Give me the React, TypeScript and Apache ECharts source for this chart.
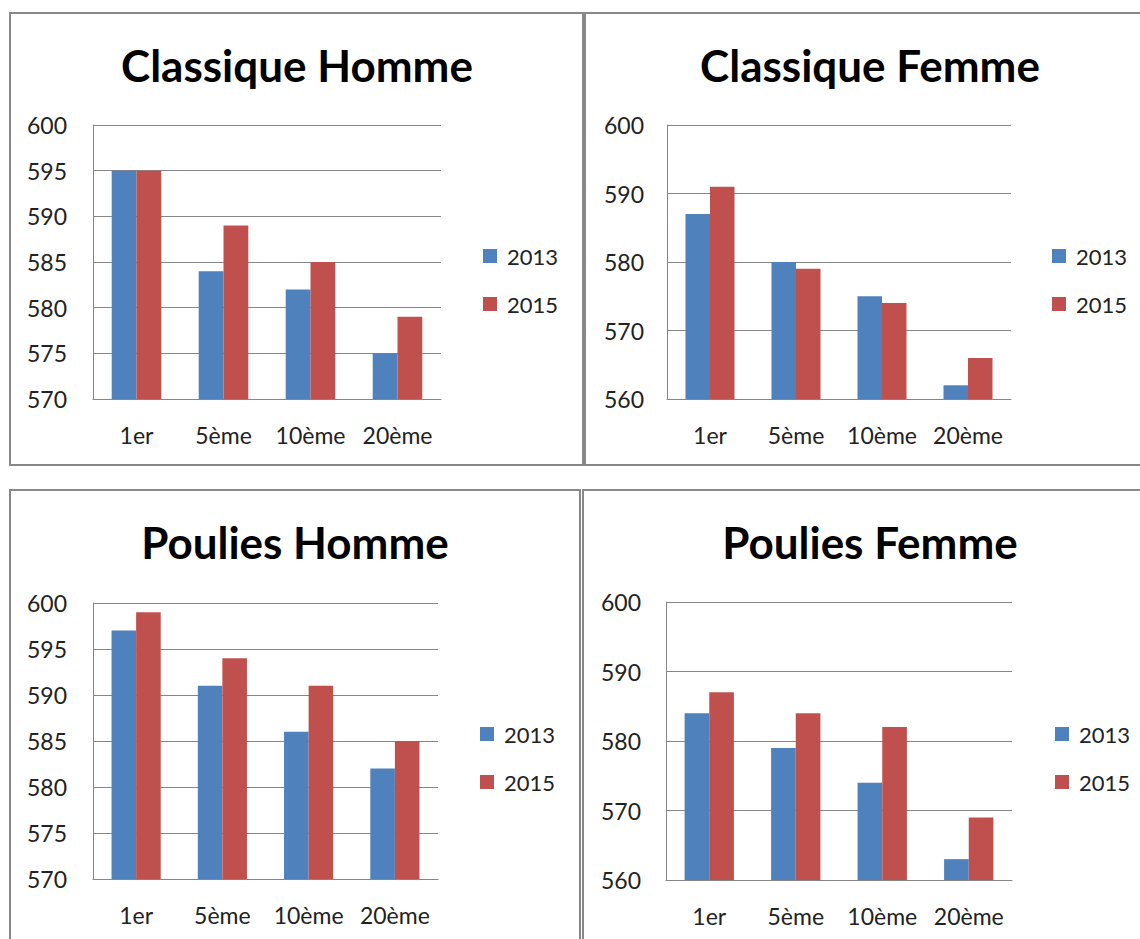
import React, { useEffect, useRef } from "react";
import * as echarts from "echarts";

const categories = ["1er", "5ème", "10ème", "20ème"];
const seriesNames = ["2013", "2015"];
const titles = ["Classique Homme", "Classique Femme", "Poulies Homme", "Poulies Femme"];

const classiqueHomme2013 = [595, 584, 582, 575];
const classiqueHomme2015 = [595, 589, 585, 579];
const classiqueFemme2013 = [587, 580, 575, 562];
const classiqueFemme2015 = [591, 579, 574, 566];
const pouliesHomme2013 = [597, 591, 586, 582];
const pouliesHomme2015 = [599, 594, 591, 585];
const pouliesFemme2013 = [584, 579, 574, 563];
const pouliesFemme2015 = [587, 584, 582, 569];

const yMin = [570, 560, 570, 560];
const yMax = [600, 600, 600, 600];
const yInterval = [5, 10, 5, 10];

const panelData = [
  [classiqueHomme2013, classiqueHomme2015],
  [classiqueFemme2013, classiqueFemme2015],
  [pouliesHomme2013, pouliesHomme2015],
  [pouliesFemme2013, pouliesFemme2015],
];

const BLUE = "#4F81BD";
const RED = "#C0504D";
const FONT = "Lato";

const grids = [
  { left: 93, top: 125, width: 348, height: 274 },
  { left: 667, top: 125, width: 344, height: 274 },
  { left: 93, top: 603, width: 345, height: 276 },
  { left: 666, top: 602, width: 346, height: 278 },
];
const yLabelMargin = [26, 23, 26, 25];
const titlePos = [
  [297, 65],
  [870, 65],
  [295, 542],
  [870, 542],
];
const legendPos = [
  [483, 245],
  [1052, 245],
  [480, 723],
  [1055, 723],
];
const borders = [
  [10, 13, 573, 452],
  [585, 13, 570, 452],
  [10, 490, 570, 470],
  [583, 490, 570, 470],
];

export default function App() {
  const ref = useRef<HTMLDivElement>(null);
  useEffect(() => {
    if (!ref.current) return;
    const chart = echarts.init(ref.current, undefined, { renderer: "svg" });
    const series: any[] = [];
    panelData.forEach((pair, i) => {
      pair.forEach((vals, j) => {
        series.push({
          name: seriesNames[j],
          type: "bar",
          xAxisIndex: i,
          yAxisIndex: i,
          data: vals,
          barGap: "0%",
          barCategoryGap: "43%",
          itemStyle: { color: j === 0 ? BLUE : RED },
        });
      });
    });
    chart.setOption({
      animation: false,
      backgroundColor: "#ffffff",
      grid: grids.map((g) => ({ ...g, containLabel: false })),
      xAxis: grids.map((_, i) => ({
        type: "category",
        gridIndex: i,
        data: categories,
        axisLine: { lineStyle: { color: "#868686", width: 1 } },
        axisTick: { show: false },
        axisLabel: { interval: 0, color: "#222", fontFamily: FONT, fontSize: 23, margin: 24 },
      })),
      yAxis: grids.map((_, i) => ({
        type: "value",
        gridIndex: i,
        min: yMin[i],
        max: yMax[i],
        interval: yInterval[i],
        axisLine: { show: true, lineStyle: { color: "#868686", width: 1 } },
        axisTick: { show: false },
        splitLine: { lineStyle: { color: "#868686", width: 1 } },
        axisLabel: { color: "#222", fontFamily: FONT, fontSize: 23, margin: yLabelMargin[i] },
      })),
      legend: legendPos.map(([x, y]) => ({
        left: x,
        top: y,
        padding: 0,
        orient: "vertical",
        itemWidth: 14,
        itemHeight: 14,
        itemGap: 26,
        icon: "rect",
        data: seriesNames,
        selectedMode: false,
        textStyle: { color: "#222", fontFamily: FONT, fontSize: 22, padding: [0, 0, 0, 5] },
      })),
      graphic: [
        ...borders.map(([x, y, w, h]) => ({
          type: "rect",
          shape: { x, y, width: w, height: h },
          style: { fill: "none", stroke: "#888888", lineWidth: 2 },
          silent: true,
        })),
        ...titles.map((t, i) => ({
          type: "text",
          x: titlePos[i][0],
          y: titlePos[i][1],
          style: {
            text: t,
            fontFamily: FONT,
            fontWeight: "bold",
            fontSize: 44,
            fill: "#000",
            textAlign: "center",
            textVerticalAlign: "middle",
          },
        })),
      ],
      series,
    });
    return () => chart.dispose();
  }, []);
  return (
    <div
      ref={ref}
      style={{ position: "fixed", left: 0, top: 0, width: 1140, height: 939 }}
    />
  );
}
